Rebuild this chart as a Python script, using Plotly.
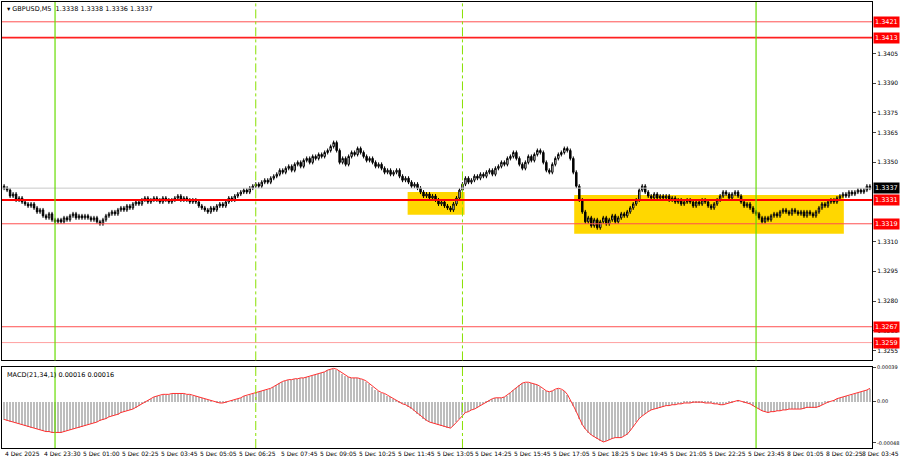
import plotly.graph_objects as go
from plotly.subplots import make_subplots

closes = [
1.3337,1.3336,1.3333,1.3334,1.3331,1.3332,1.3330,1.3329,1.3328,1.3329,
1.3327,1.3325,1.3326,1.3323,1.3322,1.3324,1.3321,1.3320,1.3321,1.3320,
1.3322,1.3321,1.3323,1.3324,1.3322,1.3323,1.3322,1.3323,1.3322,1.3321,
1.3322,1.3320,1.3319,1.3321,1.3323,1.3324,1.3325,1.3324,1.3326,1.3327,
1.3326,1.3328,1.3327,1.3329,1.3330,1.3329,1.3331,1.3332,1.3330,1.3331,
1.3332,1.3331,1.3330,1.3332,1.3331,1.3330,1.3331,1.3332,1.3333,1.3331,
1.3332,1.3331,1.3330,1.3331,1.3330,1.3328,1.3327,1.3326,1.3325,1.3327,
1.3326,1.3328,1.3329,1.3328,1.3330,1.3332,1.3331,1.3333,1.3334,1.3335,
1.3336,1.3335,1.3337,1.3338,1.3339,1.3338,1.3340,1.3341,1.3340,1.3342,
1.3343,1.3344,1.3346,1.3345,1.3347,1.3348,1.3346,1.3349,1.3350,1.3348,
1.3351,1.3352,1.3350,1.3353,1.3352,1.3354,1.3353,1.3355,1.3356,1.3358,
1.3360,1.3356,1.3350,1.3352,1.3349,1.3353,1.3355,1.3354,1.3357,1.3355,
1.3353,1.3351,1.3352,1.3350,1.3348,1.3349,1.3347,1.3345,1.3346,1.3344,
1.3345,1.3346,1.3343,1.3341,1.3342,1.3340,1.3338,1.3339,1.3337,1.3335,
1.3333,1.3334,1.3332,1.3333,1.3331,1.3329,1.3330,1.3328,1.3327,1.3326,
1.3329,1.3332,1.3336,1.3339,1.3342,1.3340,1.3341,1.3343,1.3342,1.3344,
1.3343,1.3345,1.3346,1.3344,1.3347,1.3348,1.3350,1.3349,1.3352,1.3353,
1.3355,1.3352,1.3349,1.3347,1.3350,1.3353,1.3351,1.3354,1.3356,1.3355,
1.3350,1.3346,1.3345,1.3349,1.3352,1.3354,1.3355,1.3357,1.3356,1.3352,
1.3345,1.3338,1.3331,1.3325,1.3320,1.3322,1.3318,1.3321,1.3317,1.3320,
1.3322,1.3319,1.3321,1.3323,1.3320,1.3322,1.3324,1.3323,1.3325,1.3327,
1.3329,1.3331,1.3336,1.3338,1.3335,1.3333,1.3332,1.3334,1.3332,1.3333,
1.3332,1.3333,1.3331,1.3332,1.3330,1.3331,1.3329,1.3330,1.3331,1.3330,
1.3328,1.3330,1.3329,1.3331,1.3330,1.3328,1.3327,1.3329,1.3331,1.3333,
1.3335,1.3334,1.3332,1.3334,1.3335,1.3333,1.3330,1.3328,1.3329,1.3327,
1.3325,1.3324,1.3322,1.3320,1.3322,1.3321,1.3323,1.3324,1.3323,1.3325,
1.3326,1.3325,1.3324,1.3326,1.3325,1.3324,1.3325,1.3323,1.3325,1.3324,
1.3323,1.3325,1.3327,1.3329,1.3328,1.3330,1.3331,1.3330,1.3332,1.3333,
1.3334,1.3333,1.3335,1.3334,1.3335,1.3336,1.3335,1.3336,1.3338,1.3337]

macd_1e5 = [
-21,-22,-23,-24,-25,-26,-27,-28,-29,-30,
-31,-32,-33,-34,-35,-35,-36,-36,-36,-36,
-35,-34,-33,-32,-31,-30,-29,-28,-27,-26,
-25,-24,-22,-21,-20,-18,-17,-16,-15,-13,
-12,-11,-10,-9,-7,-5,-3,-1,1,3,
5,6,7,8,8,8,9,9,9,9,
9,8,8,7,6,5,4,3,2,1,
0,-1,-2,-2,-1,0,1,2,3,4,
6,7,8,9,10,11,12,13,14,15,
17,19,21,23,24,25,25,26,26,27,
27,28,29,30,31,32,33,34,36,37,
38,37,35,32,30,28,27,27,27,26,
25,23,20,17,14,12,10,9,7,5,
3,1,-1,-3,-4,-6,-8,-11,-14,-17,
-20,-22,-24,-25,-26,-27,-28,-29,-30,-31,
-28,-24,-20,-16,-13,-12,-10,-9,-7,-5,
-3,-1,1,3,4,4,4,5,7,10,
13,16,19,21,22,22,21,20,19,17,
14,12,11,12,14,15,14,12,8,2,
-5,-12,-20,-27,-32,-36,-39,-41,-43,-45,
-47,-46,-44,-43,-42,-42,-42,-40,-38,-34,
-29,-24,-20,-17,-14,-12,-10,-9,-8,-7,
-6,-5,-5,-4,-4,-3,-3,-2,-2,-2,
-1,-1,-1,-1,-2,-2,-2,-3,-3,-4,
-4,-3,-2,-1,0,1,0,-1,-2,-3,
-5,-7,-9,-11,-12,-13,-12,-12,-11,-11,
-10,-10,-9,-9,-9,-9,-9,-8,-7,-7,
-7,-7,-6,-4,-2,-1,0,1,3,4,
5,6,7,8,9,10,11,12,13,15]

time_labels = ["4 Dec 2025","4 Dec 23:30","5 Dec 01:00","5 Dec 02:25","5 Dec 03:45","5 Dec 05:05",
"5 Dec 06:25","5 Dec 07:45","5 Dec 09:05","5 Dec 10:25","5 Dec 11:45","5 Dec 13:05","5 Dec 14:25",
"5 Dec 15:45","5 Dec 17:05","5 Dec 18:25","5 Dec 19:45","5 Dec 21:05","5 Dec 22:25","5 Dec 23:45",
"8 Dec 01:05","8 Dec 02:25","8 Dec 03:45"]
label_bars = [0,13,26,39,52,65,78,92,105,118,131,144,157,170,183,196,209,222,235,248,261,274,286]

levels = [1.3421,1.3413,1.3331,1.3319,1.3267,1.3259]
level_widths = [1,1.6,1.8,1,1,1]
level_colors = ["#ff5050","#ff2020","#ff0000","#ff5050","#ff5050","#ffa0a0"]
price_ticks = [1.3405,1.3390,1.3375,1.3365,1.3350,1.3310,1.3295,1.3280,1.3265,1.3255]
vlines_solid = [17,251]
vlines_dash = [84,153]
boxes = [(134.7,153.7,1.3335,1.33235),(190.3,280.3,1.33335,1.3314)]
current = 1.3337

n = len(closes)
x = list(range(n))
opens = [closes[0]+0.0001] + closes[:-1]
highs = [max(o,c)+0.0001 for o,c in zip(opens,closes)]
lows = [min(o,c)-0.0001 for o,c in zip(opens,closes)]
macd = [v*1e-5 for v in macd_1e5]

fig = make_subplots(rows=2, cols=1, shared_xaxes=True, row_heights=[0.815,0.185], vertical_spacing=0.014)
for x0,x1,y0,y1 in boxes:
    fig.add_shape(type="rect", x0=x0,x1=x1,y0=y0,y1=y1, fillcolor="#ffd700", line_width=0, layer="below", row=1,col=1)
fig.add_trace(go.Candlestick(x=x, open=opens, high=highs, low=lows, close=closes,
    increasing=dict(line=dict(color="black",width=1), fillcolor="white"),
    decreasing=dict(line=dict(color="black",width=1), fillcolor="black"),
    whiskerwidth=0, showlegend=False, hoverinfo="skip"), row=1, col=1)
fig.add_trace(go.Bar(x=x, y=macd, marker_color="#bdbdbd", marker_line_width=0, width=0.5, showlegend=False), row=2, col=1)
fig.add_trace(go.Scatter(x=x, y=macd, mode="lines", line=dict(color="#ff3030", width=1), showlegend=False), row=2, col=1)

for lv,w,c in zip(levels, level_widths, level_colors):
    fig.add_shape(type="line", xref="x domain", x0=0, x1=1, y0=lv, y1=lv, line=dict(color=c,width=w), row=1,col=1)
    fig.add_annotation(xref="paper", x=1.0, xanchor="left", xshift=1, yref="y", y=lv, text=f"{lv:.4f}",
        showarrow=False, bgcolor="#ff0000", font=dict(color="white",size=6.5), borderpad=1)
fig.add_shape(type="line", xref="x domain", x0=0, x1=1, y0=current, y1=current, line=dict(color="#c8c8c8",width=1), row=1,col=1)
fig.add_annotation(xref="paper", x=1.0, xanchor="left", xshift=1, yref="y", y=current, text=f"{current:.4f}",
    showarrow=False, bgcolor="black", font=dict(color="white",size=6.5), borderpad=1)
for v in vlines_solid:
    for r,yr in ((1,"y domain"),(2,"y2 domain")):
        fig.add_shape(type="line", x0=v, x1=v, yref=yr, y0=0, y1=1, line=dict(color="#66dd00",width=1.2), row=r,col=1)
for v in vlines_dash:
    for r,yr in ((1,"y domain"),(2,"y2 domain")):
        fig.add_shape(type="line", x0=v, x1=v, yref=yr, y0=0, y1=1, line=dict(color="#88e000",width=1,dash="dashdot"), row=r,col=1)

for b,t in zip(label_bars, time_labels):
    fig.add_annotation(x=b, xref="x2", yref="paper", y=0, yshift=-1, yanchor="top", xanchor="left", text=t,
        showarrow=False, font=dict(size=6, color="black"), borderpad=0)
fig.add_annotation(xref="paper", yref="paper", x=0.003, y=0.998, xanchor="left", yanchor="top",
    text="▾ GBPUSD,M5  1.3338 1.3338 1.3336 1.3337", showarrow=False, font=dict(size=6.5,color="black"))
fig.add_annotation(xref="paper", yref="paper", x=0.003, y=0.178, xanchor="left", yanchor="top",
    text="MACD(21,34,1) 0.00016 0.00016", showarrow=False, font=dict(size=6.5,color="black"))

ax = dict(showgrid=False, showline=True, linecolor="black", mirror=True, zeroline=False)
fig.update_xaxes(**ax, range=[-0.7, n-0.3], showticklabels=False, ticks="", rangeslider_visible=False)
fig.update_yaxes(**ax, side="right", ticks="outside", ticklen=3, tickfont=dict(size=6,color="black"))
fig.update_yaxes(range=[1.3250,1.3431], tickvals=price_ticks, ticktext=[f"{p:.4f}" for p in price_ticks], row=1, col=1)
fig.update_yaxes(range=[-0.00054,0.0004], tickvals=[0.00039,0,-0.00048], ticktext=["0.00039","0.00","-0.00048"],
    tickfont=dict(size=5), row=2, col=1)
fig.update_layout(width=900, height=460, margin=dict(l=2,r=28,t=2,b=12,autoexpand=False), paper_bgcolor="white", plot_bgcolor="white",
    font=dict(family="DejaVu Sans"), bargap=0)
fig.write_html("out.html", config={"displayModeBar": False},
    post_script="document.body.style.margin='0';document.body.style.overflow='hidden';")
